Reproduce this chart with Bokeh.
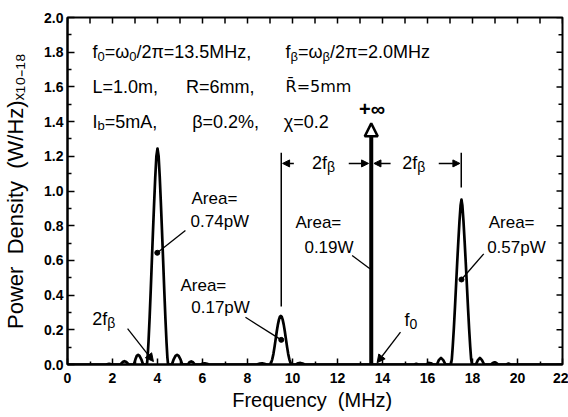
import math
from bokeh.plotting import figure
from bokeh.models import (ColumnDataSource, Label, Arrow, NormalHead, FixedTicker,
                          Range1d, PrintfTickFormatter)
from bokeh.embed import file_html
from bokeh.resources import INLINE

# ---------------- data ----------------
freq = [0.0, 1.7, 1.85, 2.0, 2.35, 2.45, 2.53, 2.62, 2.72, 2.95, 3.02, 3.08, 3.14, 3.2, 3.28, 3.36, 3.53,
        3.56, 3.6, 3.65, 3.7, 3.75, 3.8, 3.85, 3.9, 3.95, 4.0, 4.05, 4.1, 4.15, 4.2, 4.25, 4.3, 4.35,
        4.4, 4.44, 4.47,
        4.64, 4.72, 4.8, 4.87, 4.94, 5.02, 5.1, 5.35, 5.42, 5.5, 5.58, 5.66, 5.92, 6.0, 6.1, 6.2, 6.3,
        8.4, 8.55, 8.65, 8.75, 8.85,
        9.0, 9.05, 9.1, 9.15, 9.2, 9.25, 9.3, 9.35, 9.4, 9.44, 9.48, 9.52, 9.56, 9.61, 9.66, 9.71,
        9.76, 9.81, 9.86, 9.91, 9.96,
        10.15, 10.25, 10.35, 10.45, 10.55,
        15.4, 15.5, 15.6, 15.95, 16.05, 16.15, 16.25, 16.42, 16.5, 16.6, 16.7, 16.8,
        17.04, 17.08, 17.12, 17.17, 17.22, 17.27, 17.32, 17.37, 17.42, 17.47, 17.51, 17.55, 17.6,
        17.65, 17.7, 17.75, 17.8, 17.85, 17.9, 17.94, 17.98,
        18.15, 18.24, 18.33, 18.42, 18.52, 18.82, 18.9, 18.98, 19.06, 19.14, 19.5, 19.6, 19.7, 22.0]
power = [0.0, 0.0, 0.004, 0.0, 0.0, 0.014, 0.019, 0.014, 0.0, 0.0, 0.03, 0.05, 0.056, 0.05, 0.03, 0.0, 0.0,
         0.04, 0.13, 0.27, 0.43, 0.6, 0.77, 0.93, 1.08, 1.2, 1.245, 1.2, 1.08, 0.93, 0.77, 0.6, 0.43, 0.27,
         0.13, 0.04, 0.0,
         0.0, 0.03, 0.05, 0.056, 0.05, 0.03, 0.0, 0.0, 0.013, 0.018, 0.013, 0.0, 0.0, 0.005, 0.007, 0.004, 0.0,
         0.0, 0.005, 0.007, 0.004, 0.0,
         0.0, 0.01, 0.03, 0.06, 0.1, 0.145, 0.19, 0.23, 0.26, 0.275, 0.28, 0.275, 0.26, 0.23, 0.19, 0.145,
         0.1, 0.06, 0.03, 0.01, 0.0,
         0.0, 0.007, 0.009, 0.005, 0.0,
         0.0, 0.004, 0.0, 0.0, 0.009, 0.007, 0.0, 0.0, 0.025, 0.038, 0.025, 0.0,
         0.0, 0.03, 0.1, 0.206, 0.328, 0.458, 0.588, 0.71, 0.824, 0.916, 0.95, 0.916, 0.824,
         0.71, 0.588, 0.458, 0.328, 0.206, 0.1, 0.03, 0.0,
         0.0, 0.025, 0.038, 0.025, 0.0, 0.0, 0.009, 0.013, 0.009, 0.0, 0.0, 0.005, 0.0, 0.0]

spike_freq = [13.5]          # f0 line (goes to +infinity)
spike_top = [1.39]

x_ticks = [0, 2, 4, 6, 8, 10, 12, 14, 16, 18, 20, 22]
x_minor = [1, 3, 5, 7, 9, 11, 13, 15, 17, 19, 21]
y_ticks = [0.0, 0.2, 0.4, 0.6, 0.8, 1.0, 1.2, 1.4, 1.6, 1.8, 2.0]
y_minor = [0.1, 0.3, 0.5, 0.7, 0.9, 1.1, 1.3, 1.5, 1.7, 1.9]
X_MAX, Y_MAX = 22, 2.0

# annotation leader lines (label -> point on curve)
lead_x0 = [5.24, 7.91, 12.65, 18.5]
lead_y0 = [0.772, 0.272, 0.628, 0.638]
lead_x1 = [3.99, 9.5, 13.44, 17.51]
lead_y1 = [0.644, 0.142, 0.552, 0.49]
dot_x = [3.99, 9.5, 17.51]
dot_y = [0.644, 0.142, 0.49]

# pointer arrows (2f_beta, f0)
ptr_x0 = [2.67, 14.8]
ptr_y0 = [0.207, 0.186]
ptr_x1 = [3.82, 13.76]
ptr_y1 = [0.017, 0.01]

# dimension arrows for 2f_beta spacing
dim_y = 1.159
dim_x0 = [10.06, 12.5, 14.36, 16.5]
dim_x1 = [9.56, 13.38, 13.62, 17.44]
guide_x = [9.5, 17.5]
guide_y0 = [1.22, 1.22]
guide_y1 = [0.335, 1.02]

FONT = "Liberation Sans"
NB = "\u00a0"

p = figure(width=568, height=417, x_range=Range1d(0, X_MAX), y_range=Range1d(0, Y_MAX),
           output_backend="svg", toolbar_location=None,
           min_border_left=67, min_border_right=6, min_border_top=17, min_border_bottom=53)
p.xgrid.visible = False
p.ygrid.visible = False
p.outline_line_color = "black"
p.outline_line_width = 2
p.background_fill_color = "white"
p.border_fill_color = "white"

def style_axis(ax, ticks, minor, mj, mn):
    ax.ticker = FixedTicker(ticks=ticks, minor_ticks=minor)
    ax.axis_line_width = 2
    ax.axis_line_color = "black"
    ax.major_tick_in = mj
    ax.major_tick_out = 0
    ax.minor_tick_in = mn
    ax.minor_tick_out = 0
    ax.major_tick_line_width = 1.5
    ax.minor_tick_line_width = 1.5
    ax.major_label_text_font = FONT
    ax.major_label_text_font_style = "bold"
    ax.major_label_text_font_size = "14px"
    ax.major_label_text_color = "black"
    ax.axis_label_text_font = FONT
    ax.axis_label_text_font_style = "normal"
    ax.axis_label_text_color = "black"

xa = p.xaxis[0]
style_axis(xa, x_ticks, x_minor, 6, 3)
xa.major_label_standoff = 8
xa.axis_label = "Frequency" + NB + NB + "(MHz)" + NB
xa.axis_label_text_font_size = "20px"
xa.axis_label_standoff = 3

ya = p.yaxis[0]
style_axis(ya, y_ticks, y_minor, 7, 4)
ya.formatter = PrintfTickFormatter(format="%.1f")
ya.major_label_standoff = 4
ya.axis_label = "Power" + NB + NB + "Density" + NB + NB + "(W/Hz)ₓ₁₀₋₁₈"
ya.axis_label_text_font_size = "22px"
ya.axis_label_standoff = 13

# inward ticks on the top and right frame edges
p.ray(x=x_ticks + x_minor, y=[Y_MAX] * (len(x_ticks) + len(x_minor)), length=6,
      length_units="screen", angle=-math.pi / 2, line_width=1.5, line_color="black")
p.ray(x=[X_MAX] * len(y_ticks), y=y_ticks, length=6, length_units="screen",
      angle=math.pi, line_width=1.5, line_color="black")
p.ray(x=[X_MAX] * len(y_minor), y=y_minor, length=4, length_units="screen",
      angle=math.pi, line_width=1.5, line_color="black")

# spectrum
p.line(freq, power, line_width=2.7, line_color="black", line_join="round")

# infinite spike at f0
spike_src = ColumnDataSource(dict(x0=spike_freq, y0=[0.0] * len(spike_freq), x1=spike_freq, y1=spike_top))
p.add_layout(Arrow(source=spike_src, x_start="x0", y_start="y0", x_end="x1", y_end="y1",
                   line_width=4, line_color="black",
                   end=NormalHead(size=13, fill_color="white", line_color="black", line_width=2.5)))

# leaders and dots
p.segment(lead_x0, lead_y0, lead_x1, lead_y1, line_width=1.3, line_color="black")
p.scatter(dot_x, dot_y, size=5, color="black")

# pointer arrows
for a, b, c, d in zip(ptr_x0, ptr_y0, ptr_x1, ptr_y1):
    p.add_layout(Arrow(x_start=a, y_start=b, x_end=c, y_end=d, line_width=1.3,
                       end=NormalHead(size=8, fill_color="black", line_width=1)))

# 2f_beta dimension arrows + guides
p.segment(guide_x, guide_y0, guide_x, guide_y1, line_width=1.5, line_color="black")
for a, c in zip(dim_x0, dim_x1):
    p.add_layout(Arrow(x_start=a, y_start=dim_y, x_end=c, y_end=dim_y, line_width=1.5,
                       end=NormalHead(size=7, fill_color="black", line_width=1)))

def lab(x, y, text, size=18, bold=False, align="left", xo=0, yo=0, font=FONT):
    p.add_layout(Label(x=x, y=y, text=text, text_font=font, text_font_size=f"{size}px",
                       text_font_style="bold" if bold else "normal", text_align=align,
                       text_baseline="middle", x_offset=xo, y_offset=yo, text_color="black"))

def comp(x, y, pieces, size=18, sub=13, sub_dy=-4):
    # pieces: (text, is_subscript, x offset in px)
    for t, s, xo in pieces:
        lab(x, y, t, size=sub if s else size, xo=xo, yo=sub_dy if s else 0)

# header parameters
comp(1.11, 1.8, [("f", False, 0), ("0", True, 5.0), ("=ω", False, 12.2), ("0", True, 36.7),
                 ("/2π=13.5MHz,", False, 43.9)])
comp(9.69, 1.8, [("f", False, 0), ("β", True, 5.0), ("=ω", False, 12.5), ("β", True, 37.0),
                 ("/2π=2.0MHz", False, 44.5)])
lab(1.11, 1.6, "L=1.0m,")
lab(5.27, 1.6, "R=6mm,")
lab(9.69, 1.6, "R̄=5mm", font="DejaVu Sans", size=16)
comp(1.11, 1.4, [("I", False, 0), ("b", True, 5.0), ("=5mA,", False, 12.2)])
lab(5.54, 1.4, "β=0.2%,")
lab(9.61, 1.4, "χ=0.2")

# area annotations
lab(5.51, 0.955, "Area=", size=17)
lab(5.47, 0.826, "0.74pW", size=17)
lab(5.02, 0.455, "Area=", size=17)
lab(5.5, 0.33, "0.17pW", size=17)
lab(10.13, 0.82, "Area=", size=17)
lab(10.53, 0.676, "0.19W", size=17)
lab(18.72, 0.82, "Area=", size=17)
lab(18.65, 0.676, "0.57pW", size=17)

comp(1.1, 0.263, [("2f", False, 0), ("β", True, 15.0)], sub=14)
comp(14.98, 0.254, [("f", False, 0), ("0", True, 5.0)], sub=14)
lab(13.53, 1.47, "+∞", size=20, bold=True, align="center")
comp(10.87, dim_y, [("2f", False, 0), ("β", True, 15.0)], sub=14)
comp(14.88, dim_y, [("2f", False, 0), ("β", True, 15.0)], sub=14)

open("out.html", "w").write(file_html(p, INLINE))
